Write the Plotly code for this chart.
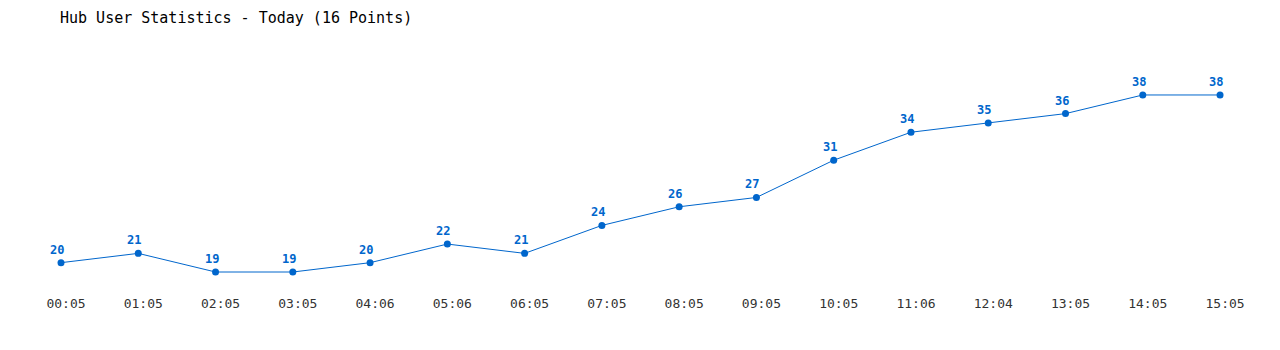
import plotly.graph_objects as go

times = ["00:05", "01:05", "02:05", "03:05", "04:06", "05:06", "06:05", "07:05",
         "08:05", "09:05", "10:05", "11:06", "12:04", "13:05", "14:05", "15:05"]
users = [20, 21, 19, 19, 20, 22, 21, 24, 26, 27, 31, 34, 35, 36, 38, 38]

color = "#0066cc"
xs = list(range(len(times)))
fig = go.Figure()
fig.add_trace(go.Scatter(
    x=xs, y=users, mode="lines+markers",
    line=dict(color=color, width=1),
    marker=dict(color=color, size=7),
    hoverinfo="skip",
))
for x, v in zip(xs, users):
    fig.add_annotation(x=x, y=v, text=str(v), showarrow=False,
                       xanchor="center", yanchor="bottom", yshift=4, xshift=-4,
                       font=dict(family="DejaVu Sans Mono", size=12, color=color, weight="bold"))
fig.update_layout(
    width=1280, height=350,
    margin=dict(l=20, r=20, t=40, b=60),
    paper_bgcolor="white", plot_bgcolor="white",
    showlegend=False,
    title=dict(text="Hub User Statistics - Today (16 Points)", x=60/1280, xanchor="left",
               y=1 - 18/350, yanchor="middle",
               font=dict(family="DejaVu Sans Mono", size=15, color="#000")),
    xaxis=dict(range=[-0.5306, 15.517], tickmode="array",
               tickvals=xs, ticktext=times,
               showgrid=False, zeroline=False, showline=False, ticks="",
               ticklabelstandoff=4, ticklabelshift=5,
               tickfont=dict(family="DejaVu Sans Mono", size=13, color="#333")),
    yaxis=dict(range=[17.068, 43.9], showgrid=False, zeroline=False,
               showline=False, showticklabels=False, ticks=""),
)
fig.write_html("out.html")
